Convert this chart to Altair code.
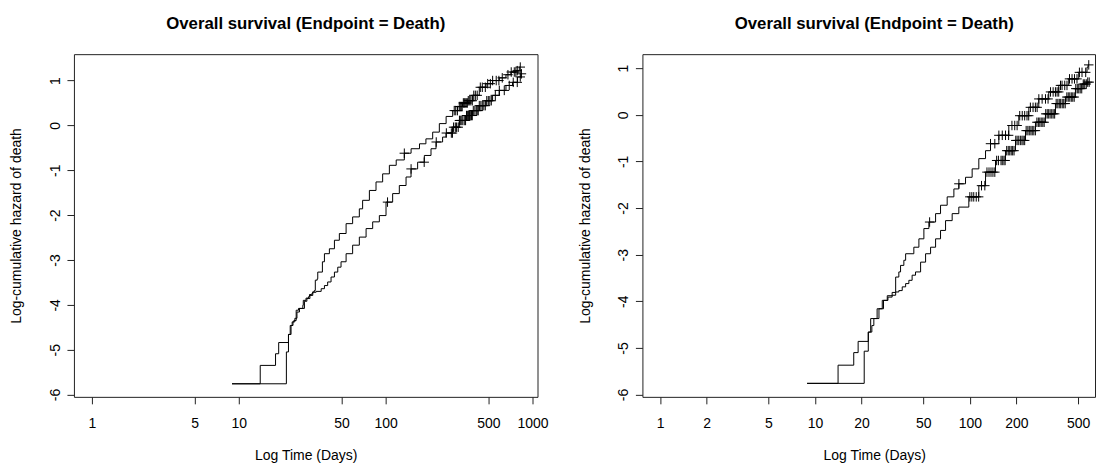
import altair as alt
import pandas as pd

FONT = "Liberation Sans"
TITLE = "Overall survival (Endpoint = Death)"

# ---- Left panel: log-cumulative hazard step points (time in days, log H) ----
left_upper_t = [9, 14, 17.8, 18.7, 21.8, 22.4, 23.1, 23.7, 24.6, 25.5, 27.3, 27.5, 28.7, 29.8, 30.3,
                31.4, 31.9, 32.7, 33.2, 34.2, 34.5, 37.1, 38.3, 41.4, 44.8, 48.4, 53.8, 59.6, 66.2, 69.7,
                77.5, 86.0, 95.4, 106, 118, 134, 149, 170, 188, 209, 232, 258, 286, 309, 334,
                361, 391, 434, 482, 535, 594, 659, 713, 771, 812]
left_upper_v = [-5.76, -5.35, -5.09, -4.84, -4.66, -4.46, -4.38, -4.35, -4.12, -4.08, -4.01, -3.90, -3.85, -3.82, -3.77,
                -3.75, -3.71, -3.68, -3.45, -3.42, -3.27, -3.04, -2.86, -2.75, -2.56, -2.41, -2.19, -2.04, -1.86, -1.67,
                -1.45, -1.26, -1.08, -0.89, -0.77, -0.62, -0.52, -0.41, -0.30, -0.15, 0.04, 0.20, 0.33, 0.42, 0.50,
                0.55, 0.67, 0.85, 0.93, 1.00, 1.06, 1.13, 1.19, 1.22, 1.30]
left_upper_censor = [134, 293, 300, 308, 317, 322, 327, 332, 338, 343, 348, 354, 360, 365, 371, 380,
                     389, 398, 408, 420, 441, 455, 477, 495, 516, 535, 566, 590, 622, 680, 716,
                     751, 770, 787, 825]

left_lower_t = [9, 21.1, 21.8, 22.7, 23.4, 24.1, 24.9, 25.9, 28.0, 29.1, 30.5, 31.9, 33.6, 36.4, 38.3,
                40.3, 42.5, 44.8, 47.2, 49.7, 53.8, 59.6, 66.2, 73.6, 81.6, 90.6, 100.6, 111.6, 123.9, 137.7,
                148.9, 165.1, 183.4, 203.6, 220.3, 244.2, 257.5, 285.6, 317.3, 352.4, 390.7, 434.0, 482.0, 534.6, 593.6,
                659.2, 730.9, 790.7, 834.1]
left_lower_v = [-5.76, -5.05, -4.66, -4.46, -4.38, -4.30, -4.16, -4.08, -3.92, -3.86, -3.79, -3.72, -3.70, -3.64, -3.57,
                -3.49, -3.38, -3.27, -3.16, -3.04, -2.86, -2.67, -2.49, -2.30, -2.15, -2.01, -1.71, -1.52, -1.34, -1.15,
                -0.97, -0.82, -0.67, -0.52, -0.37, -0.26, -0.17, -0.04, 0.11, 0.22, 0.33, 0.44, 0.55, 0.67, 0.78,
                0.89, 0.96, 1.08, 1.15]
left_lower_censor = [103, 149, 183, 221, 259, 280, 285, 290, 298, 304, 312, 318, 322, 327, 335, 343,
                     350, 355, 360, 366, 372, 377, 384, 389, 395, 405, 414, 420, 427, 434, 445, 455,
                     466, 477, 488, 500, 512, 524, 558, 594, 642, 694, 739, 787, 825, 840]

# ---- Right panel ----
right_upper_t = [8.9, 14.1, 17.8, 19.0, 22.1, 22.9, 25.2, 27.2, 29.3, 31.5, 33.2, 34.8, 35.7, 37.5, 38.5,
                 43.5, 46.9, 50.5, 54.4, 60.1, 64.7, 71.4, 78.9, 84.9, 93.8, 103.5, 114.3, 126.3, 136.0, 153.9,
                 178.5, 207.1, 240.3, 278.7, 323.3, 375.2, 435.3, 505.0, 571.2, 580]
right_upper_v = [-5.76, -5.37, -5.10, -4.86, -4.66, -4.37, -4.16, -3.98, -3.88, -3.81, -3.48, -3.37, -3.23, -3.12, -2.98,
                 -2.84, -2.66, -2.44, -2.30, -2.12, -1.94, -1.76, -1.59, -1.48, -1.34, -1.16, -0.94, -0.77, -0.62, -0.44,
                 -0.23, -0.02, 0.16, 0.34, 0.49, 0.63, 0.77, 0.91, 1.02, 1.07]
right_upper_censor = [55, 85, 136, 145, 154, 162, 170, 178, 187, 195, 202, 210, 218, 226, 234, 240,
                      246, 256, 265, 272, 279, 293, 308, 320, 332, 345, 357, 366, 375, 385, 394, 410,
                      424, 440, 457, 474, 492, 510, 530, 560, 586]

right_lower_t = [8.9, 20.8, 22.1, 23.3, 24.0, 25.9, 27.7, 29.6, 31.5, 33.2, 34.8, 36.6, 38.5, 40.4, 42.4,
                 44.6, 48.1, 51.8, 55.8, 60.1, 64.7, 69.7, 76.9, 84.9, 98.5, 114.3, 126.3, 146.5, 169.9, 197.2,
                 228.8, 265.4, 307.8, 357.3, 414.4, 480.8, 530.2, 571.2]
right_lower_v = [-5.76, -5.07, -4.66, -4.52, -4.37, -4.16, -3.98, -3.91, -3.87, -3.80, -3.77, -3.69, -3.62, -3.55, -3.44,
                 -3.37, -3.16, -2.98, -2.84, -2.66, -2.48, -2.27, -2.12, -1.98, -1.76, -1.52, -1.23, -0.98, -0.77, -0.55,
                 -0.34, -0.16, 0.02, 0.24, 0.38, 0.56, 0.66, 0.70]
right_lower_censor = [100, 103, 106, 110, 114, 119, 125, 129, 133, 137, 141, 145, 149, 153, 159, 162,
                      166, 169, 173, 177, 181, 185, 189, 193, 198, 202, 207, 212, 217, 221, 226, 231,
                      237, 242, 248, 253, 259, 265, 271, 277, 283, 289, 296, 302, 309, 316, 323, 330,
                      338, 345, 353, 361, 370, 378, 386, 395, 404, 413, 423, 432, 442, 452, 462, 472,
                      483, 494, 505, 516, 528, 540, 552, 565, 577, 590]

left_x_ticks = [1, 5, 10, 50, 100, 500, 1000]
right_x_ticks = [1, 2, 5, 10, 20, 50, 100, 200, 500]
y_ticks = [-6, -5, -4, -3, -2, -1, 0, 1]


def arm_frames(name, t, v, censor):
    steps = pd.DataFrame({"t": [float(x) for x in t], "v": v}).sort_values("t")
    cens = pd.DataFrame({"t": sorted(float(x) for x in censor)})
    # censoring marks sit on the step curve at their time
    cens = pd.merge_asof(cens, steps, on="t", direction="backward")
    # the curve runs on to the last follow-up time
    last_t = max(steps["t"].max(), cens["t"].max())
    if last_t > steps["t"].max():
        steps = pd.concat([steps, pd.DataFrame({"t": [last_t], "v": [steps["v"].iloc[-1]]})])
    steps["arm"] = name
    cens["arm"] = name
    return steps, cens


def panel(arms, x_domain, x_ticks, y_domain, width, title_dx):
    curve_parts, mark_parts = [], []
    for name, t, v, c in arms:
        s, m = arm_frames(name, t, v, c)
        curve_parts.append(s)
        mark_parts.append(m)
    curves = pd.concat(curve_parts, ignore_index=True)
    marks = pd.concat(mark_parts, ignore_index=True)

    x = alt.X(
        "t:Q",
        scale=alt.Scale(type="log", domain=x_domain, nice=False),
        axis=alt.Axis(
            values=x_ticks, format="d", title="Log Time (Days)", grid=False, domain=False,
            tickSize=7, tickColor="#222", tickWidth=1,
            labelFont=FONT, labelFontSize=14, labelColor="black", labelPadding=13,
            labelFlush=False, labelOverlap=False, labelBound=False,
            titleFont=FONT, titleFontSize=14, titleFontWeight="normal", titleColor="black",
            titleX=232, titleY=58.5, titleAlign="center", titleBaseline="middle",
        ),
    )
    y = alt.Y(
        "v:Q",
        scale=alt.Scale(domain=y_domain, nice=False, zero=False),
        axis=alt.Axis(
            values=y_ticks, labelExpr="'' + datum.value", title="Log-cumulative hazard of death",
            grid=False, domain=False, tickSize=7, tickColor="#222", tickWidth=1,
            labelFont=FONT, labelFontSize=14, labelColor="black", labelPadding=7.5,
            labelAngle=270, labelAlign="center", labelBaseline="alphabetic",
            labelFlush=False, labelOverlap=False, labelBound=False,
            titleFont=FONT, titleFontSize=14, titleFontWeight="normal", titleColor="black",
            titleAngle=270, titleX=-53.3, titleY=171.5, titleAlign="center", titleBaseline="alphabetic",
        ),
    )

    lines = alt.Chart(curves).mark_line(
        interpolate="step-after", color="black", strokeWidth=1
    ).encode(x=x, y=y, detail="arm:N")
    censor_marks = alt.Chart(marks).mark_point(
        shape="M-1,0L1,0M0,-1L0,1", size=90, filled=False, color="black", strokeWidth=1, opacity=1
    ).encode(x=x, y=y)

    return alt.layer(lines, censor_marks).properties(
        width=width,
        height=343,
        title=alt.TitleParams(
            TITLE, font=FONT, fontSize=16.8, fontWeight="bold", color="black",
            anchor="middle", frame="group", baseline="alphabetic", offset=8, dx=title_dx,
        ),
    )


left = panel(
    [("upper", left_upper_t, left_upper_v, left_upper_censor),
     ("lower", left_lower_t, left_lower_v, left_lower_censor)],
    [0.755, 1081], left_x_ticks, [-6.051, 1.588], 464, 0,
)
right = panel(
    [("upper", right_upper_t, right_upper_v, right_upper_censor),
     ("lower", right_lower_t, right_lower_v, right_lower_censor)],
    [0.769, 643], right_x_ticks, [-6.049, 1.30], 453, 5.5,
)

chart = alt.hconcat(left, right, spacing=105, bounds="flush").properties(
    padding={"left": 9, "top": 15, "right": 0, "bottom": 0},
    background="white",
).configure_view(stroke="#222", strokeWidth=1)

chart.save("out.html", embed_options={"renderer": "svg", "actions": False})
